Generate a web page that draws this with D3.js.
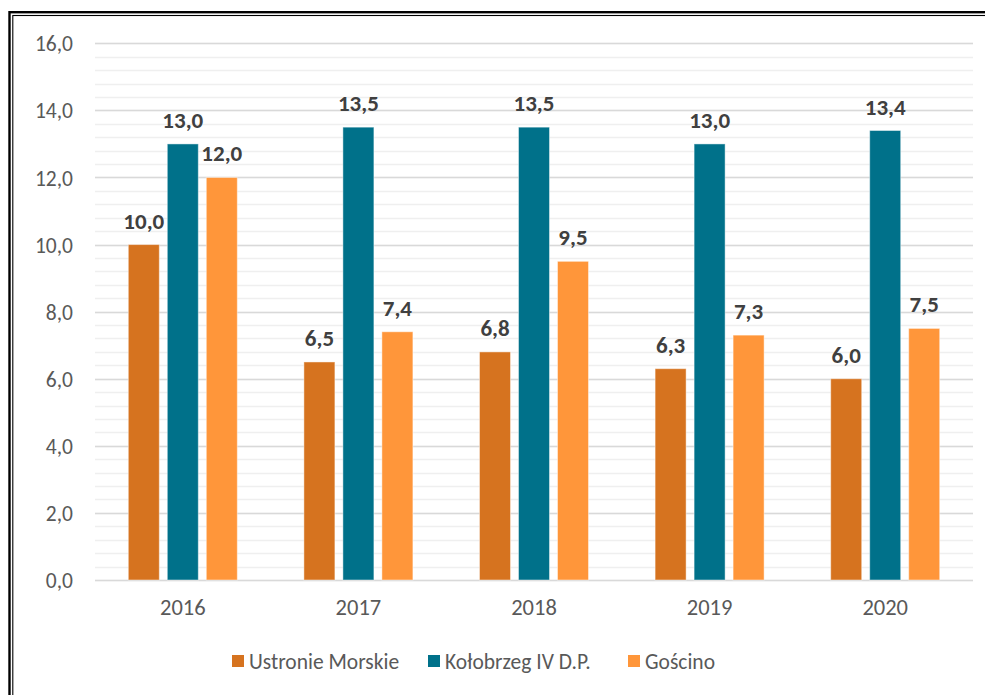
<!DOCTYPE html>
<html><head><meta charset="utf-8">
<script src="https://cdn.jsdelivr.net/npm/d3@7"></script>
<style>body{margin:0;background:#fff;} svg{display:block;}</style>
</head><body>
<svg id="c" width="985" height="695"></svg>
<script>
const years = ["2016","2017","2018","2019","2020"];
const seriesNames = ["Ustronie Morskie","Kołobrzeg IV D.P.","Gościno"];
const ustronie = [10.0, 6.5, 6.8, 6.3, 6.0];
const kolobrzeg = [13.0, 13.5, 13.5, 13.0, 13.4];
const goscino = [12.0, 7.4, 9.5, 7.3, 7.5];
const yTicks = [0,2,4,6,8,10,12,14,16];
const colors = ["#D6731F","#00718A","#FF963A"];
const seriesValues = [ustronie, kolobrzeg, goscino];

const font = "Calibri, Carlito, Lato, sans-serif";
const svg = d3.select("#c");
const fmt = v => v.toFixed(1).replace(".", ",");

// border
svg.append("rect").attr("x",9.5).attr("y",12.2).attr("width",1100).attr("height",1100)
  .attr("fill","none").attr("stroke","#000").attr("stroke-width",2.4);
svg.append("rect").attr("x",12.8).attr("y",15.5).attr("width",1100).attr("height",1100)
  .attr("fill","none").attr("stroke","#000").attr("stroke-width",1.1);

const x0 = d3.scaleBand().domain(years).range([95, 973]).paddingInner(0).paddingOuter(0);
const y = d3.scaleLinear().domain([0,16]).range([580, 43.3]);
const x1 = d3.scaleBand().domain(seriesNames).range([-54.5, 54.5]).paddingInner(0.205).paddingOuter(0);

// minor gridlines
const minor = d3.range(0, 16.001, 0.4);
svg.append("g").selectAll("line").data(minor).join("line")
  .attr("x1",95).attr("x2",973)
  .attr("y1",d=>Math.round(y(d))+0.5).attr("y2",d=>Math.round(y(d))+0.5)
  .attr("stroke","#EFEFEF").attr("stroke-width",1.5);
// major gridlines
svg.append("g").selectAll("line").data(yTicks).join("line")
  .attr("x1",95).attr("x2",973)
  .attr("y1",d=>Math.round(y(d))+0.5).attr("y2",d=>Math.round(y(d))+0.5)
  .attr("stroke","#D9D9D9").attr("stroke-width",1.5);

// y axis labels
const yAxis = d3.axisLeft(y).tickValues(yTicks).tickFormat(fmt).tickSize(0).tickPadding(0);
const ya = svg.append("g").attr("transform","translate(73,0)").call(yAxis);
ya.select(".domain").remove();
ya.selectAll("text").attr("font-family",font).attr("font-size",21.5).attr("fill","#595959").attr("dy","0.35em");

// x axis labels
const xAxis = d3.axisBottom(x0).tickSize(0).tickPadding(0);
const xa = svg.append("g").attr("transform","translate(0,598)").call(xAxis);
xa.select(".domain").remove();
xa.selectAll("text").attr("font-family",font).attr("font-size",22.5).attr("fill","#595959").attr("dy","0.75em");

// bars
const groups = svg.append("g").selectAll("g").data(years).join("g")
  .attr("transform", d => `translate(${x0(d)+x0.bandwidth()/2},0)`);
groups.each(function(yr, i){
  const g = d3.select(this);
  seriesNames.forEach((s, j) => {
    const v = seriesValues[j][i];
    g.append("rect")
      .attr("x", x1(s)).attr("width", x1.bandwidth())
      .attr("y", y(v)).attr("height", y(0)-y(v))
      .attr("fill", colors[j]).attr("stroke","#ffffff").attr("stroke-opacity",0.45).attr("stroke-width",1);
    g.append("text")
      .attr("x", x1(s)+x1.bandwidth()/2).attr("y", y(v)-16)
      .attr("text-anchor","middle")
      .attr("font-family",font).attr("font-size",23).attr("font-weight","bold").attr("fill","#404040")
      .text(fmt(v));
  });
});

// legend
const legendX = [232, 428, 628];
const lg = svg.append("g").selectAll("g").data(seriesNames).join("g")
  .attr("transform",(d,i)=>`translate(${legendX[i]},655)`);
lg.append("rect").attr("width",12).attr("height",12).attr("fill",(d,i)=>colors[i]);
lg.append("text").attr("x",17).attr("y",6).attr("dy","0.35em")
  .attr("font-family",font).attr("font-size",21.5).attr("fill","#595959").text(d=>d);
</script>
</body></html>
